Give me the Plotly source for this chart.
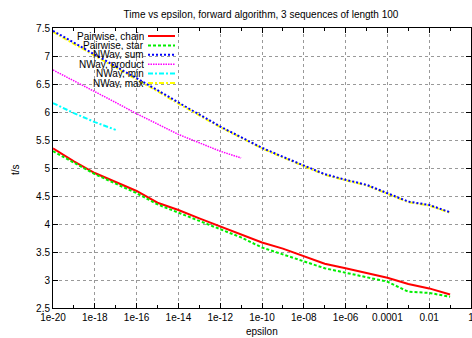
import plotly.graph_objects as go

epsilon = [1e-20, 1e-19, 1e-18, 1e-17, 1e-16, 1e-15, 1e-14, 1e-13, 1e-12, 1e-11,
           1e-10, 1e-9, 1e-8, 1e-7, 1e-6, 1e-5, 1e-4, 1e-3, 1e-2, 1e-1]

pairwise_chain = [5.35, 5.12, 4.91, 4.75, 4.59, 4.38, 4.25, 4.10, 3.96, 3.82,
                  3.67, 3.56, 3.42, 3.29, 3.21, 3.12, 3.04, 2.93, 2.85, 2.74]
pairwise_star = [5.30, 5.09, 4.89, 4.72, 4.55, 4.35, 4.20, 4.05, 3.91, 3.76,
                 3.58, 3.46, 3.33, 3.21, 3.13, 3.05, 2.97, 2.79, 2.77, 2.70]
nway_sum = [7.45, 7.24, 7.02, 6.81, 6.60, 6.39, 6.17, 5.95, 5.74, 5.55,
            5.36, 5.20, 5.04, 4.89, 4.79, 4.70, 4.55, 4.40, 4.34, 4.21]
nway_max = [7.43, 7.22, 7.00, 6.79, 6.58, 6.37, 6.15, 5.94, 5.73, 5.54,
            5.35, 5.19, 5.03, 4.88, 4.78, 4.69, 4.54, 4.39, 4.33, 4.20]
eps_product = [1e-20, 1e-19, 1e-18, 1e-17, 1e-16, 1e-15, 1e-14, 1e-13, 1e-12, 1e-11]
nway_product = [6.75, 6.56, 6.37, 6.17, 5.97, 5.78, 5.60, 5.45, 5.30, 5.18]
eps_min = [1e-20, 1e-19, 1e-18, 1e-17]
nway_min = [6.16, 5.98, 5.82, 5.68]

x_tickvals = [1e-20, 1e-18, 1e-16, 1e-14, 1e-12, 1e-10, 1e-8, 1e-6, 1e-4, 1e-2, 1]
x_ticktext = ["1e-20", "1e-18", "1e-16", "1e-14", "1e-12", "1e-10", "1e-08",
              "1e-06", "0.0001", "0.01", "1"]
x_minor = [1e-19, 1e-17, 1e-15, 1e-13, 1e-11, 1e-9, 1e-7, 1e-5, 1e-3, 1e-1]
y_tickvals = [2.5, 3, 3.5, 4, 4.5, 5, 5.5, 6, 6.5, 7, 7.5]

series = [
    ("Pairwise, chain", epsilon, pairwise_chain, "#ff0000", "solid", 2),
    ("Pairwise, star", epsilon, pairwise_star, "#00ee00", "3px,2px", 2),
    ("NWay, sum", epsilon, nway_sum, "#0000ff", "2px,2px", 2),
    ("NWay, product", eps_product, nway_product, "#ff00ff", "1.5px,1px", 1.5),
    ("NWay, min", eps_min, nway_min, "#00ffff", "5px,2px,2px,2px", 2),
    ("NWay, max", epsilon, nway_max, "#ffff00", "5px,2px,2px,2px", 2),
]

FONT = "Liberation Sans, Arial, sans-serif"
W, H = 472, 338
L, R, T, B = 53, 1, 28, 30
PW, PH = W - L - R, H - T - B


def px_to_paper_x(px):
    return (px - L) / PW


def px_to_paper_y(py):
    return (H - B - py) / PH


fig = go.Figure()
# draw order: yellow under blue
order = [5, 0, 1, 2, 3, 4]
for i in order:
    name, xs, ys, col, dash, w = series[i]
    fig.add_trace(go.Scatter(x=xs, y=ys, mode="lines", name=name,
                             line=dict(color=col, dash=dash, width=w),
                             showlegend=False))

# custom gnuplot-like legend (text right-aligned, sample to the right)
for i, (name, xs, ys, col, dash, w) in enumerate(series):
    yy = px_to_paper_y(36 + i * 9.4)
    fig.add_annotation(x=px_to_paper_x(145), y=yy, xref="paper", yref="paper", text=name,
                       showarrow=False, xanchor="right", yanchor="middle",
                       height=9, borderpad=0,
                       font=dict(family=FONT, size=10, color="#000"))
    fig.add_shape(type="line", xref="paper", yref="paper",
                  x0=px_to_paper_x(148), x1=px_to_paper_x(175), y0=yy, y1=yy,
                  line=dict(color=col, dash=dash, width=w))

# axis titles
fig.add_annotation(x=px_to_paper_x(262), y=px_to_paper_y(331), xref="paper", yref="paper",
                   text="epsilon", showarrow=False, xanchor="center", yanchor="middle",
                   font=dict(family=FONT, size=10, color="#000"))
fig.add_annotation(x=px_to_paper_x(15), y=px_to_paper_y(170), xref="paper", yref="paper",
                   text="t/s", showarrow=False, xanchor="center", yanchor="middle",
                   textangle=-90, font=dict(family=FONT, size=10, color="#000"))

fig.update_layout(
    width=W, height=H,
    margin=dict(l=L, r=R, t=T, b=B, autoexpand=False),
    paper_bgcolor="white", plot_bgcolor="white",
    font=dict(family=FONT, size=10, color="#000"),
    title=dict(text="Time vs epsilon, forward algorithm, 3 sequences of length 100",
               x=261 / W, xanchor="center", y=1 - 14 / H, yanchor="middle",
               xref="container", yref="container",
               font=dict(size=10, family=FONT)),
)
fig.update_xaxes(type="log", range=[-20, 0], tickvals=x_tickvals, ticktext=x_ticktext,
                 ticks="inside", ticklen=5, tickcolor="#000", automargin=False,
                 ticklabeloverflow="allow",
                 showline=True, linecolor="#000", linewidth=1, mirror="ticks",
                 showgrid=True, gridcolor="#999", griddash="dot", gridwidth=1,
                 zeroline=False,
                 minor=dict(tickvals=x_minor, ticks="inside", ticklen=3,
                            tickcolor="#000", showgrid=False))
fig.update_yaxes(range=[2.5, 7.5], tickvals=y_tickvals, automargin=False,
                 ticks="inside", ticklen=5, tickcolor="#000",
                 showline=True, linecolor="#000", linewidth=1, mirror="ticks",
                 showgrid=True, gridcolor="#999", griddash="dot", gridwidth=1,
                 zeroline=False)

fig.write_html("out.html", config={"displayModeBar": False},
               post_script="document.body.style.margin='0';")
